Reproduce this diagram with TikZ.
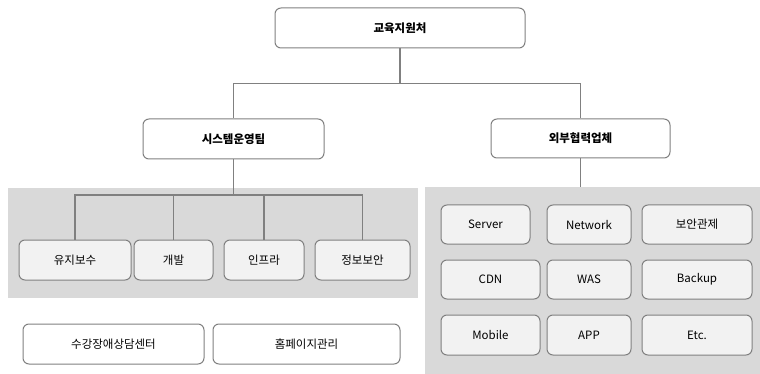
\documentclass[tikz,border=0pt]{standalone}
\usepackage{fontspec}
\setmainfont{Noto Sans CJK KR}
\usepackage{tikz}
\usetikzlibrary{positioning}

\definecolor{linegray}{HTML}{808080}
\definecolor{panelgray}{HTML}{D9D9D9}
\definecolor{boxfill}{HTML}{F2F2F2}

\begin{document}
\begin{tikzpicture}[x=1pt, y=-1pt,
    unit/.style={draw=linegray, line width=1pt, rounded corners=6pt, fill=white,
      minimum height=40pt, inner sep=0pt, font=\fontsize{11.5}{13}\selectfont},
    head/.style={unit, font=\fontsize{11.5}{13}\selectfont\bfseries},
    sub/.style={unit, fill=boxfill},
    link/.style={draw=linegray, line width=1.3pt}]
      \useasboundingbox (0, 0) rectangle (760, 374);
      % panels
      \fill[panelgray] (8, 188) rectangle (418, 298);
      \fill[panelgray] (425, 187) rectangle (760, 374);
      % top levels
      \node[head, minimum width=250pt] (office) at (400, 28) {교육지원처};
      \node[head, minimum width=181pt] (sysops) at (233.5, 139) {시스템운영팀};
      \node[head, minimum width=179pt, minimum height=39pt] (partner) at (580.5, 138.5) {외부협력업체};
      \draw[link] (office.south) -- ++(0, 35) -| (sysops.north);
      \draw[link] (office.south) -- ++(0, 35) -| (partner.north);
      % system team
      \node[sub, minimum width=112pt] (maint) at (75, 260) {유지보수};
      \node[sub, minimum width=79pt] (devel) at (173.5, 260) {개발};
      \node[sub, minimum width=80pt] (infra) at (264, 260) {인프라};
      \node[sub, minimum width=95pt] (secur) at (362.5, 260) {정보보안};
      \coordinate (sysbus) at (233.5, 195);
      \draw[link] (sysops.south) -- (sysbus);
      \foreach \n in {maint, devel, infra, secur}
        \draw[link] (\n.north) |- (sysbus);
      % other units
      \node[unit, minimum width=181pt] (helpdesk) at (113.5, 344) {수강장애상담센터};
      \node[unit, minimum width=187pt] (homepage) at (306.5, 344) {홈페이지관리};
      % partners
      \coordinate (partnerbus) at (580.5, 187);
      \draw[link] (partner.south) -- (partnerbus);
      \node[sub, minimum width=89pt, minimum height=39pt] (server) at (485.5, 224.5) {Server};
      \node[sub, minimum width=84pt, minimum height=39pt] (network) at (589, 224.5) {Network};
      \node[sub, minimum width=110pt, minimum height=39pt] (control) at (697, 224.5) {보안관제};
      \node[sub, minimum width=99pt, minimum height=39pt] (cdn) at (490.5, 279.5) {CDN};
      \node[sub, minimum width=84pt, minimum height=39pt] (was) at (589, 279.5) {WAS};
      \node[sub, minimum width=110pt, minimum height=39pt] (backup) at (697, 279.5) {Backup};
      \node[sub, minimum width=99pt] (mobile) at (490.5, 335) {Mobile};
      \node[sub, minimum width=84pt] (app) at (589, 335) {APP};
      \node[sub, minimum width=110pt] (etc) at (697, 335) {Etc.};
    \end{tikzpicture}
\end{document}
